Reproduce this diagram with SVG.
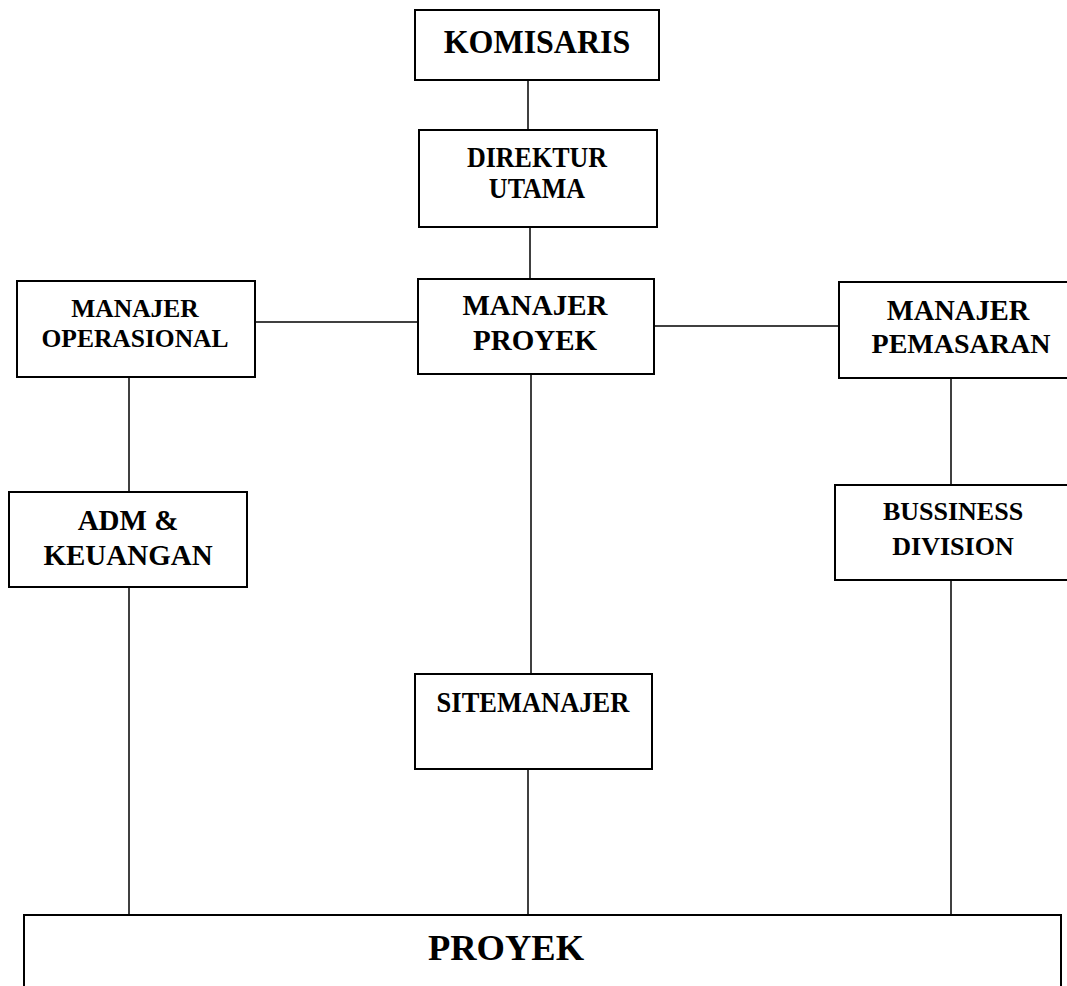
<svg xmlns="http://www.w3.org/2000/svg" width="1067" height="986" viewBox="0 0 1067 986">
<style>
.box{fill:#fff;stroke:#000;stroke-width:2}
.ln{stroke:#000;stroke-width:1.5;fill:none}
text{font-family:"Liberation Serif","Times New Roman",serif;font-weight:bold;fill:#000;text-anchor:middle}
</style>
<rect width="1067" height="986" fill="#fff"/>
<g id="connectors">
<line class="ln" x1="528" y1="80" x2="528" y2="130"/>
<line class="ln" x1="530" y1="227" x2="530" y2="279"/>
<line class="ln" x1="255" y1="322" x2="418" y2="322"/>
<line class="ln" x1="654" y1="326" x2="839" y2="326"/>
<line class="ln" x1="129" y1="377" x2="129" y2="492"/>
<line class="ln" x1="951" y1="378" x2="951" y2="485"/>
<line class="ln" x1="531" y1="374" x2="531" y2="674"/>
<line class="ln" x1="129" y1="587" x2="129" y2="915"/>
<line class="ln" x1="528" y1="769" x2="528" y2="915"/>
<line class="ln" x1="951" y1="580" x2="951" y2="915"/>
</g>
<g id="komisaris">
<rect class="box" x="415" y="10" width="244" height="70"/>
<text transform="translate(537 53) scale(1 1.08)" font-size="32">KOMISARIS</text>
</g>
<g id="direktur-utama">
<rect class="box" x="419" y="130" width="238" height="97"/>
<text transform="translate(537 167) scale(1 1.1)" font-size="26">DIREKTUR</text>
<text transform="translate(537 198) scale(1 1.1)" font-size="26">UTAMA</text>
</g>
<g id="manajer-operasional">
<rect class="box" x="17" y="281" width="238" height="96"/>
<text x="135" y="317" font-size="25.5">MANAJER</text>
<text x="135" y="347" font-size="25.5">OPERASIONAL</text>
</g>
<g id="manajer-proyek">
<rect class="box" x="418" y="279" width="236" height="95"/>
<text x="535" y="315" font-size="29">MANAJER</text>
<text x="535" y="350" font-size="29">PROYEK</text>
</g>
<g id="manajer-pemasaran">
<rect class="box" x="839" y="282" width="240" height="96"/>
<text x="958" y="320" font-size="28.5">MANAJER</text>
<text x="961" y="353" font-size="28">PEMASARAN</text>
</g>
<g id="adm-keuangan">
<rect class="box" x="9" y="492" width="238" height="95"/>
<text x="128" y="530" font-size="29">ADM &amp;</text>
<text x="128" y="565" font-size="29">KEUANGAN</text>
</g>
<g id="bussiness-division">
<rect class="box" x="835" y="485" width="240" height="95"/>
<text x="953" y="520" font-size="26">BUSSINESS</text>
<text x="953" y="555" font-size="26">DIVISION</text>
</g>
<g id="sitemanajer">
<rect class="box" x="415" y="674" width="237" height="95"/>
<text transform="translate(533 712) scale(1 1.1)" font-size="26.5">SITEMANAJER</text>
</g>
<g id="proyek">
<rect class="box" x="24" y="915" width="1037" height="90"/>
<text x="506" y="960" font-size="36.5">PROYEK</text>
</g>
</svg>
